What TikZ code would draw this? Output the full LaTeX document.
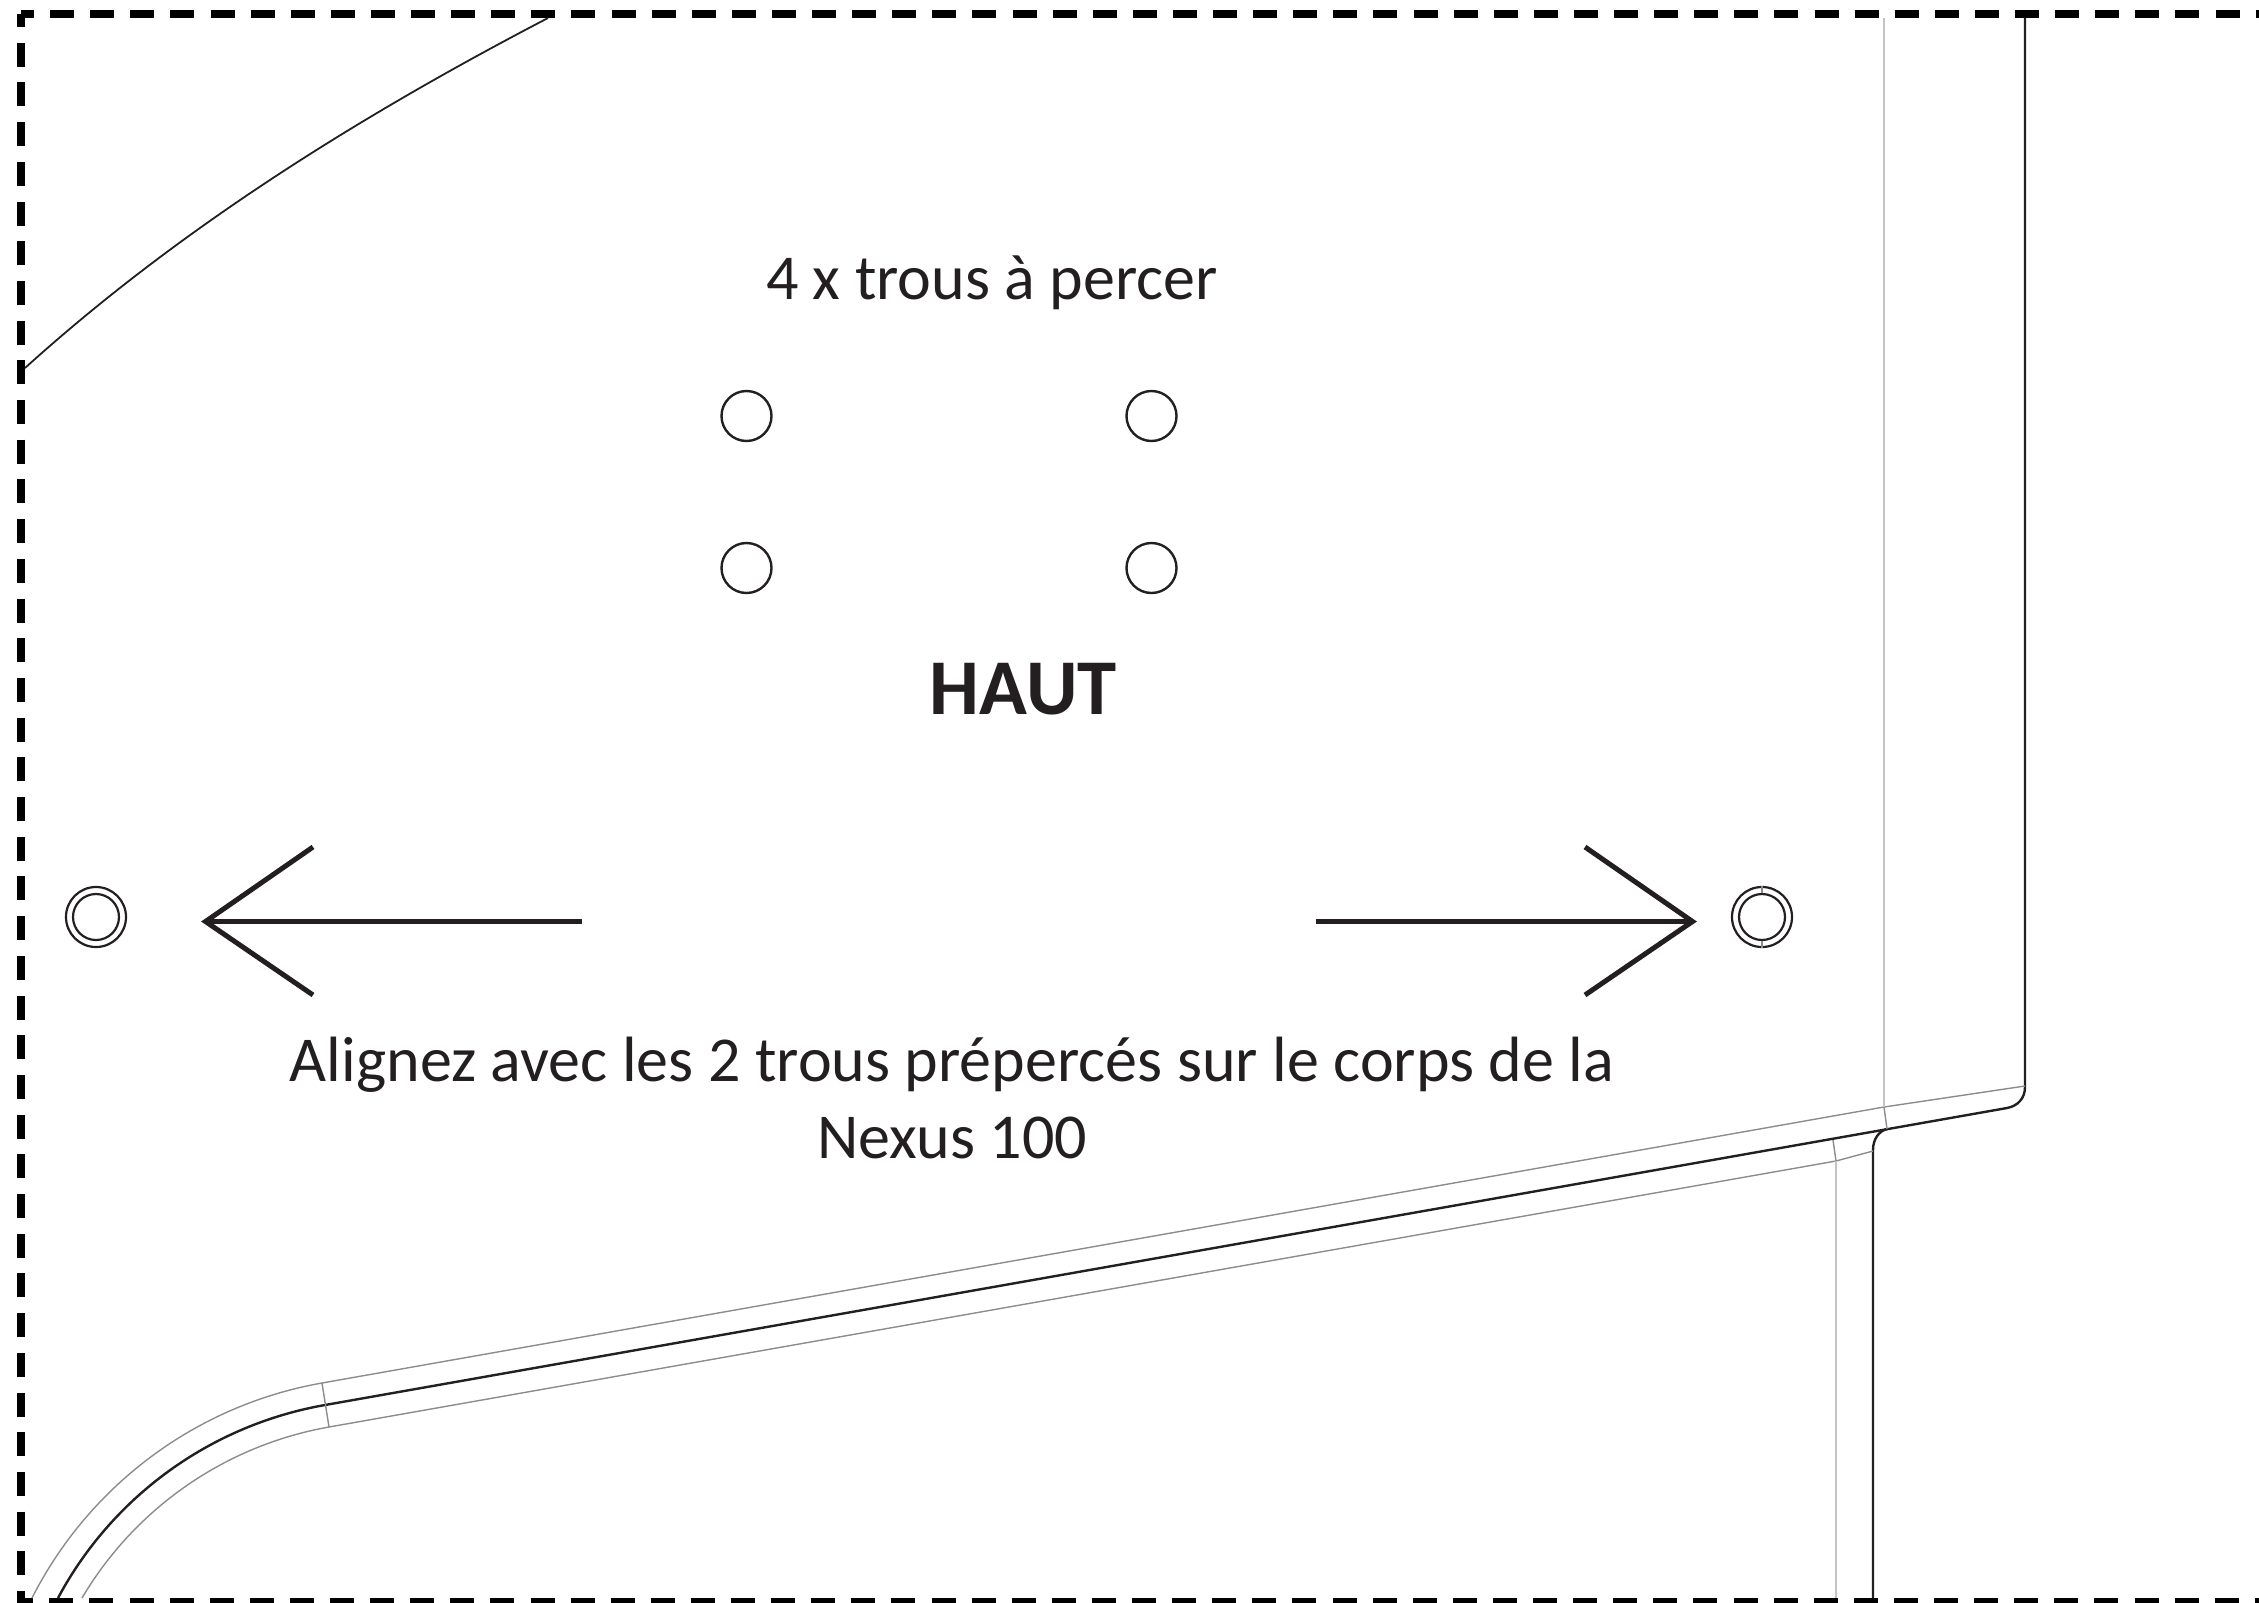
\documentclass[tikz,border=0pt]{standalone}
\usepackage{fontspec}
\setmainfont{Carlito}
\definecolor{ink}{HTML}{231F20}
\definecolor{edgegray}{HTML}{8C8C8C}
\definecolor{foldgray}{HTML}{C4C4C4}

\begin{document}
\begin{tikzpicture}[x=1pt, y=-1pt,
        label/.style={inner sep=0pt, text=ink, font=\fontsize{64}{76.5}\selectfont},
        hole/.style={circle, draw=ink, line width=2.4pt, minimum size=50pt, inner sep=0pt},
        ringout/.style={circle, draw=ink, line width=2.2pt, minimum size=60pt, inner sep=0pt},
        ringin/.style={circle, draw=ink, line width=2.2pt, minimum size=46pt, inner sep=0pt},
        cutline/.style={draw=black, line width=8pt},
        mainline/.style={draw=ink, line width=2.4pt},
        edgeline/.style={draw=edgegray, line width=1.4pt},
        foldline/.style={draw=foldgray, line width=2pt},
        bigarrow/.style={draw=ink, line width=5pt}]
        \useasboundingbox (0,0) rectangle (2259,1603);

        \coordinate (corner) at (21,14.5);
        \coordinate (cornerb) at (21,1602);
        \coordinate (topend) at (2259,14.5);
        \coordinate (botend) at (2259,1602);
        \draw[cutline, dash pattern=on 24pt off 15.7pt, dash phase=11.5pt] (corner) -- (21,1603);
        \draw[cutline, dash pattern=on 24pt off 16.1pt, dash phase=11pt] (corner) -- (topend);
        \draw[cutline, dash pattern=on 24pt off 16.1pt, dash phase=11.8pt] (cornerb) -- (botend);

        \node[label] (drill) at (992,283) {4 x trous à percer};
        \node[label, font=\fontsize{79}{95}\selectfont\bfseries] (top) at (1023.5,689) {HAUT};
        \node[label, align=center] (align) at (952,1098) {Alignez avec les 2 trous prépercés sur le corps de la\\Nexus 100};

        \node[hole] (h1) at (746.5,416) {};
        \node[hole] (h2) at (1151.5,416) {};
        \node[hole] (h3) at (746.5,568) {};
        \node[hole] (h4) at (1151.5,568) {};

        \node[ringout] (ra) at (96,917) {};
        \node[ringin] (rb) at (96,917) {};
        \node[ringout] (rc) at (1762,917) {};
        \node[ringin] (rd) at (1762,917) {};
        \draw[edgeline] (rc.north) -- (rd.north);
        \draw[edgeline] (rc.south) -- (rd.south);

        \coordinate (lefttip) at (205.5,921.5);
        \coordinate (lefttail) at (582,921.5);
        \coordinate (leftup) at (313,847);
        \coordinate (leftdown) at (313,995);
        \coordinate (righttip) at (1692.5,921.5);
        \coordinate (righttail) at (1315.5,921.5);
        \coordinate (rightup) at (1585,847);
        \coordinate (rightdown) at (1585,995);
        \draw[bigarrow] (lefttail) -- (lefttip);
        \draw[bigarrow] (leftup) -- (lefttip) -- (leftdown);
        \draw[bigarrow] (righttail) -- (righttip);
        \draw[bigarrow] (rightup) -- (righttip) -- (rightdown);

        \coordinate (arca) at (25,368);
        \coordinate (arcb) at (548,18);
        \draw[mainline, line width=1.8pt] (arca) .. controls (181,227) and (362,115) .. (arcb);

        \coordinate (ma) at (58,1598);
        \coordinate (mb) at (325,1405);
        \coordinate (mc) at (2007,1108);
        \coordinate (md) at (2025,1087);
        \coordinate (me) at (2025,18);
        \draw[mainline] (ma) .. controls (112.6,1496) and (211,1425) .. (mb) -- (mc)
            .. controls (2018,1106) and (2025,1098) .. (md) -- (me);

        \coordinate (ja) at (1887,1129);
        \coordinate (jb) at (1873,1150);
        \coordinate (jc) at (1873,1598);
        \draw[mainline] (ja) .. controls (1879,1131) and (1873,1139) .. (jb) -- (jc);

        \coordinate (ua) at (32,1598);
        \coordinate (ub) at (322,1383);
        \coordinate (uc) at (1884,1107);
        \coordinate (ud) at (2025,1086);
        \draw[edgeline] (ua) .. controls (89.5,1484.7) and (197,1405) .. (ub) -- (uc) -- (ud);

        \coordinate (la) at (82,1598);
        \coordinate (lb) at (329,1427);
        \coordinate (lc) at (1836,1161);
        \coordinate (ld) at (1873,1151);
        \draw[edgeline] (la) .. controls (135.3,1507.8) and (225.8,1445.2) .. (lb) -- (lc) -- (ld);

        \draw[edgeline] (ub) -- (lb);
        \draw[edgeline] (uc) -- (ja);
        \draw[edgeline] (lc) -- (1833,1140);

        \coordinate (fa) at (1884,18);
        \coordinate (fb) at (1836,1598);
        \draw[foldline] (fa) -- (uc);
        \draw[foldline] (lc) -- (fb);
\end{tikzpicture}
\end{document}
